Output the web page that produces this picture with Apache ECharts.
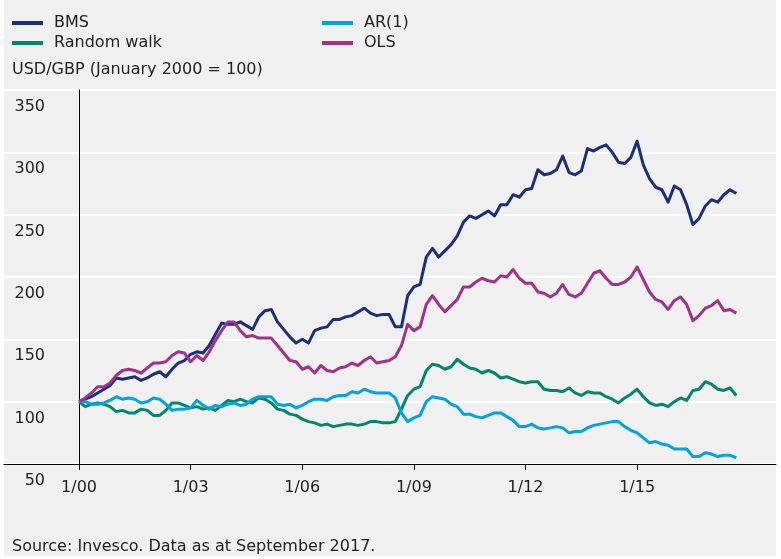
<!DOCTYPE html>
<html lang="en">
<head>
  <meta charset="UTF-8">
  <title>USD/GBP models</title>
  <script src="https://cdn.jsdelivr.net/npm/echarts@6/dist/echarts.min.js"></script>
  <style>
    html, body { margin: 0; padding: 0; background: #ffffff; }
    #chart { width: 781px; height: 559px; }
  </style>
</head>
<body>
  <div id="chart"></div>
  <script>
    // months since January 2000, every second month up to September 2017
    const months = [];
    for (let m = 0; m <= 212; m += 2) months.push(m);

    const xTickValues = [0, 36, 72, 108, 144, 180];
    const xTickLabels = ['1/00', '1/03', '1/06', '1/09', '1/12', '1/15'];

    const bms = [
      100, 102, 104, 107, 110, 113, 119, 118, 119, 120, 117, 119, 122, 124, 120, 126, 131, 133, 138, 140,
      139, 145, 154, 163, 162, 162, 164, 161, 158, 168, 173, 174, 164, 158, 152, 147, 150, 147, 157, 159,
      160, 166, 166, 168, 169, 172, 175, 171, 169, 170, 170, 160, 160, 185, 192, 194, 216, 223, 216, 221,
      226, 233, 244, 249, 247, 250, 253, 249, 258, 258, 266, 264, 270, 271, 286, 282, 283, 286, 297, 284,
      282, 285, 303, 301, 304, 306, 300, 292, 291, 296, 309, 290, 279, 272, 270, 260, 273, 270, 258, 242,
      247, 257, 262, 260, 266, 270, 267
    ];
    const randomWalk = [
      100, 96, 98, 99, 98, 96, 92, 93, 91, 91, 94, 93, 89, 89, 93, 99, 99, 97, 95, 96,
      94, 95, 93, 97, 101, 100, 102, 100, 99, 103, 102, 99, 94, 93, 90, 89, 86, 84, 83, 81,
      82, 80, 81, 82, 82, 81, 82, 84, 84, 83, 83, 84, 94, 105, 110, 112, 125, 130, 129, 126,
      128, 134, 130, 127, 126, 123, 125, 123, 119, 120, 118, 116, 115, 116, 116, 110, 109, 109, 108, 111,
      107, 105, 108, 107, 107, 104, 102, 99, 103, 106, 110, 104, 99, 97, 98, 96, 100, 103, 101, 109,
      110, 116, 114, 110, 109, 111, 105
    ];
    const ar1 = [
      100, 100, 98, 98, 99, 101, 104, 102, 103, 102, 99, 100, 103, 102, 98, 93, 94, 94, 95, 101,
      97, 94, 97, 96, 98, 99, 97, 98, 102, 104, 104, 104, 98, 97, 98, 95, 97, 100, 102, 102,
      101, 104, 105, 105, 108, 107, 110, 108, 107, 107, 107, 103, 91, 84, 87, 89, 100, 104, 103, 102,
      98, 96, 90, 90, 88, 87, 89, 91, 91, 88, 85, 80, 80, 82, 79, 78, 79, 80, 79, 75,
      76, 76, 79, 81, 82, 83, 84, 84, 80, 77, 75, 71, 67, 68, 66, 65, 62, 62, 62, 56,
      56, 59, 58, 56, 57, 57, 55
    ];
    const ols = [
      100, 103, 107, 112, 112, 115, 121, 125, 126, 125, 123, 127, 131, 131, 132, 137, 140, 139, 132, 137,
      133, 140, 149, 157, 164, 164, 157, 152, 153, 151, 151, 151, 145, 139, 133, 132, 126, 128, 123, 129,
      125, 124, 127, 128, 131, 129, 133, 136, 131, 132, 133, 136, 145, 162, 157, 160, 178, 185, 178, 172,
      177, 182, 192, 192, 196, 199, 197, 196, 201, 200, 206, 199, 195, 195, 188, 187, 184, 187, 194, 186,
      184, 187, 195, 203, 205, 199, 194, 194, 196, 200, 208, 198, 188, 182, 180, 174, 181, 184, 178, 165,
      169, 175, 177, 181, 173, 174, 171
    ];

    const seriesNames = ['BMS', 'Random walk', 'AR(1)', 'OLS'];
    const seriesValues = [bms, randomWalk, ar1, ols];
    const seriesColors = ['#1c2e7e', '#00876b', '#00a3e0', '#a2318d'];

    const font = '"DejaVu Sans", Verdana, sans-serif';
    const chart = echarts.init(document.getElementById('chart'));

    const legendBase = {
      orient: 'vertical',
      top: 15,
      padding: 0,
      itemWidth: 31,
      itemHeight: 4,
      itemGap: 4,
      icon: 'rect',
      textStyle: { fontFamily: font, fontSize: 16, color: '#222222', padding: [0, 0, 0, 6] }
    };

    chart.setOption({
      animation: false,
      backgroundColor: '#ffffff',
      color: seriesColors,
      graphic: [
        { type: 'rect', z: -10, shape: { x: 4, y: 0, width: 772, height: 556 }, style: { fill: '#f0f0f0' } },
        { type: 'text', left: 12, top: 62, style: { text: 'USD/GBP (January 2000 = 100)', font: '16px ' + font, fill: '#222222' } },
        { type: 'text', left: 12, top: 539, style: { text: 'Source: Invesco. Data as at September 2017.', font: '16px ' + font, fill: '#222222' } }
      ],
      legend: [
        Object.assign({ left: 12, data: ['BMS', 'Random walk'] }, legendBase),
        Object.assign({ left: 322, data: ['AR(1)', 'OLS'] }, legendBase)
      ],
      grid: { left: 4, right: 5, top: 90, bottom: 95, containLabel: false, outerBoundsMode: 'none' },
      xAxis: {
        type: 'value',
        min: -24.2,
        max: 224.8,
        axisLine: { onZero: false, lineStyle: { color: '#000000', width: 1 } },
        axisTick: { show: true, customValues: xTickValues, length: 6, lineStyle: { color: '#000000' } },
        axisLabel: {
          customValues: xTickValues,
          margin: 16,
          fontFamily: font,
          fontSize: 16,
          color: '#222222',
          formatter: v => xTickLabels[xTickValues.indexOf(v)] || ''
        },
        splitLine: { show: false }
      },
      yAxis: {
        type: 'value',
        min: 50,
        max: 350,
        interval: 50,
        axisLine: { show: true, onZero: true, lineStyle: { color: '#000000', width: 1 } },
        axisTick: { show: false },
        axisLabel: {
          inside: true,
          margin: 41,
          align: 'right',
          fontFamily: font,
          fontSize: 16,
          color: '#222222',
          verticalAlign: 'top',
          padding: [9, 0, 0, 0]
        },
        splitLine: { show: true, lineStyle: { color: '#ffffff', width: 2 } }
      },
      series: seriesNames.map((name, k) => ({
        name: name,
        type: 'line',
        showSymbol: false,
        data: months.map((m, i) => [m, seriesValues[k][i]]),
        lineStyle: { width: 3, color: seriesColors[k], join: 'round' },
        itemStyle: { color: seriesColors[k] }
      }))
    });
  </script>
</body>
</html>
